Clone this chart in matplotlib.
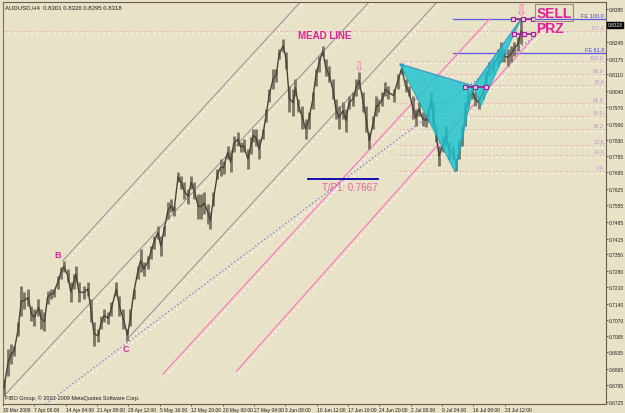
import numpy as np
import matplotlib.pyplot as plt

# ---- data ----
# sampled bars: bar index, high, low
bars = [1, 5, 8, 11, 15, 18, 21, 25, 28, 31, 35, 38, 41, 44, 47, 50, 54, 57, 60, 64,
        67, 70, 72, 75, 80, 84, 87, 90, 94, 97, 100, 104, 107, 112, 115, 119, 123, 126, 129, 133,
        136, 139, 143, 146, 149, 153, 156, 159, 163, 166, 169, 173, 176, 179, 183, 186, 189, 193, 196, 199,
        203, 205, 208, 212, 215, 218, 222, 225, 228, 232, 235, 238, 242, 245, 247, 250, 253, 257, 260, 263,
        267, 270, 273, 277, 280, 283, 287, 289, 292, 296, 299, 302, 306, 309, 312, 316, 319, 322, 326, 329,
        332, 336, 339, 342, 346, 349, 352, 356, 359, 362, 366, 369, 371, 375, 378, 381, 386, 390, 394, 398,
        401, 405, 408, 411, 415, 418, 420, 423, 425, 428, 431, 435, 438, 441, 445, 448, 451, 454, 457, 460,
        464, 467, 470, 474, 477, 480, 484, 489, 492, 495, 499, 502, 505, 509, 512]
highs = [0.6822, 0.6949, 0.6970, 0.6961, 0.7063, 0.7215, 0.7190, 0.7202, 0.7130, 0.7118,
         0.7160, 0.7118, 0.7105, 0.7194, 0.7202, 0.7202, 0.7257, 0.7295, 0.7321, 0.7287,
         0.7232, 0.7266, 0.7299, 0.7232, 0.7215, 0.7232, 0.7160, 0.7063, 0.7033, 0.7088,
         0.7118, 0.7105, 0.7147, 0.7232, 0.7173, 0.7118, 0.7033, 0.7118, 0.7202, 0.7299,
         0.7371, 0.7316, 0.7342, 0.7384, 0.7426, 0.7468, 0.7426, 0.7468, 0.7570, 0.7582,
         0.7553, 0.7696, 0.7680, 0.7654, 0.7625, 0.7680, 0.7654, 0.7604, 0.7604, 0.7612,
         0.7561, 0.7527, 0.7612, 0.7709, 0.7751, 0.7743, 0.7806, 0.7781, 0.7849, 0.7865,
         0.7823, 0.7836, 0.7794, 0.7844, 0.7878, 0.7878, 0.7836, 0.7878, 0.7963, 0.8047,
         0.8132, 0.8132, 0.8216, 0.8258, 0.8203, 0.8060, 0.8047, 0.8089, 0.8005, 0.7975,
         0.7920, 0.7950, 0.8034, 0.8132, 0.8186, 0.8229, 0.8174, 0.8144, 0.8089, 0.8005,
         0.7975, 0.7992, 0.7963, 0.8017, 0.8034, 0.8089, 0.8119, 0.8034, 0.7975, 0.7865,
         0.7933, 0.8017, 0.8005, 0.8034, 0.8077, 0.8060, 0.8047, 0.8110, 0.8157, 0.8089,
         0.8060, 0.8017, 0.7963, 0.7992, 0.7950, 0.7941, 0.7963, 0.8034, 0.7992, 0.7891,
         0.7806, 0.7849, 0.7891, 0.7823, 0.7806, 0.7751, 0.7836, 0.7891, 0.7992, 0.8047,
         0.8060, 0.8034, 0.8017, 0.8060, 0.8119, 0.8161, 0.8174, 0.8216, 0.8246, 0.8216,
         0.8216, 0.8229, 0.8246, 0.8267, 0.8347]
lows = [0.6750, 0.6835, 0.6885, 0.6919, 0.7004, 0.7088, 0.7118, 0.7130, 0.7067, 0.7046,
        0.7088, 0.7033, 0.7025, 0.7139, 0.7160, 0.7168, 0.7202, 0.7244, 0.7274, 0.7232,
        0.7147, 0.7202, 0.7232, 0.7147, 0.7160, 0.7173, 0.7063, 0.6961, 0.6978, 0.7033,
        0.7063, 0.7054, 0.7088, 0.7173, 0.7088, 0.7033, 0.6983, 0.7046, 0.7160, 0.7244,
        0.7274, 0.7257, 0.7287, 0.7329, 0.7371, 0.7413, 0.7342, 0.7426, 0.7498, 0.7527,
        0.7511, 0.7654, 0.7625, 0.7582, 0.7561, 0.7625, 0.7582, 0.7498, 0.7498, 0.7519,
        0.7477, 0.7456, 0.7553, 0.7667, 0.7680, 0.7688, 0.7751, 0.7696, 0.7781, 0.7806,
        0.7781, 0.7781, 0.7709, 0.7772, 0.7823, 0.7806, 0.7751, 0.7836, 0.7908, 0.7992,
        0.8047, 0.8077, 0.8174, 0.8203, 0.8132, 0.7950, 0.7933, 0.8017, 0.7950, 0.7878,
        0.7836, 0.7878, 0.7963, 0.8060, 0.8119, 0.8186, 0.8102, 0.8077, 0.8005, 0.7920,
        0.7878, 0.7920, 0.7865, 0.7963, 0.7975, 0.8017, 0.8047, 0.7950, 0.7865, 0.7794,
        0.7878, 0.7933, 0.7950, 0.7975, 0.8017, 0.8005, 0.7992, 0.8047, 0.8110, 0.8034,
        0.8017, 0.7920, 0.7891, 0.7933, 0.7891, 0.7887, 0.7908, 0.7963, 0.7891, 0.7823,
        0.7722, 0.7781, 0.7806, 0.7751, 0.7751, 0.7701, 0.7751, 0.7806, 0.7891, 0.7975,
        0.8005, 0.7975, 0.7963, 0.8005, 0.8047, 0.8102, 0.8110, 0.8144, 0.8161, 0.8161,
        0.8144, 0.8161, 0.8186, 0.8208, 0.8237]

x_ticks = [0, 31, 62, 93, 124, 155, 186, 217, 248, 279, 310, 341, 372, 403, 434, 465, 496]
x_labels = ["30 Mar 2009", "7 Apr 00:00", "14 Apr 04:00", "21 Apr 08:00", "28 Apr 12:00",
            "5 May 16:00", "12 May 20:00", "20 May 00:00", "27 May 04:00", "3 Jun 08:00",
            "10 Jun 12:00", "17 Jun 16:00", "24 Jun 20:00", "2 Jul 00:00", "9 Jul 04:00",
            "16 Jul 08:00", "23 Jul 12:00"]
y_ticks = [0.8385, 0.8245, 0.8175, 0.8110, 0.8040, 0.7970, 0.7900, 0.7830, 0.7765, 0.7695,
           0.7625, 0.7555, 0.7485, 0.7415, 0.7350, 0.7280, 0.7210, 0.7140, 0.7070, 0.7005,
           0.6935, 0.6865, 0.6795, 0.6725]
last_price = 0.8318

# trendline anchors (bar, price)
channel_lines = [((59, 0.7321), (320, 0.8536)),
                 ((0, 0.6746), (380, 0.8498)),
                 ((122, 0.6987), (450, 0.8512))]
pink_lines = [((158, 0.6843), (481, 0.8343)),
              ((231, 0.6856), (538, 0.8330))]
blue_line = ((42, 0.6716), (526, 0.8271))

# butterfly X, A, B, C, D
pattern_bars = [392, 447, 465, 472, 512]
pattern_prices = [0.8153, 0.7696, 0.8060, 0.7975, 0.8343]

# fibo retracement 0 -> 100
fib_low, fib_high = 0.7700, 0.8165
fib_levels = [0.0, 14.6, 23.6, 38.2, 50.0, 61.8, 78.6, 88.6, 100.0, 127.2]
fe_names = ["FE 100.0", "FE 61.8"]
fe_prices = [0.8343, 0.8199]

# PRZ marker levels (start bar, end bar, price)
prz_marks = [(504, 524, 0.8343), (505, 524, 0.8279), (457, 477, 0.8056)]
tp_price = 0.7667

# ---- drawing ----
bg = '#E8E2C6'
pink = '#FF78C4'
mag = '#E0209A'
font = 'Liberation Sans'

fig = plt.figure(figsize=(6.25, 4.14), dpi=100, facecolor=bg)
ax = fig.add_axes([3/625, 9/414, 603/625, 402/414], facecolor=bg)
ax.set_xlim(0, 596)
ax.set_ylim(0.67165, 0.84145)

# white dotted "shadow" lines helper
def seg(p0, p1, color, ls='-', lw=0.8, shadow=True, z=2):
    ax.plot([p0[0], p1[0]], [p0[1], p1[1]], color=color, ls=ls, lw=lw, zorder=z)
    if shadow:
        ax.plot([p0[0] + 2, p1[0] + 2], [p0[1] - 0.0012, p1[1] - 0.0012],
                color='white', ls=(0, (1, 3)), lw=1.0, zorder=z - 0.1)

# fibo lines
for lv in fib_levels:
    price = fib_low + (fib_high - fib_low) * lv / 100
    start = 0 if lv == 127.2 else 388
    ax.plot([start, 596], [price, price], color='#E9A2BC', ls=(0, (1, 2)), lw=0.8, zorder=1)
    ax.plot([start, 596], [price - 0.0009, price - 0.0009], color='white', ls=(0, (1, 3)), lw=1.0, zorder=1)
    ax.text(594, price + 0.0003, f"{lv:.1f}", color='#B49BD6', fontsize=4.0,
            ha='right', va='bottom', family=font, zorder=3)

for name, price in zip(fe_names, fe_prices):
    ax.plot([445, 596], [price, price], color='#5A5AE6', lw=0.9, zorder=2)
    ax.text(594, price + 0.0003, name, color='#4848E0', fontsize=4.0,
            ha='right', va='bottom', family=font, zorder=3)

for p0, p1 in channel_lines:
    seg(p0, p1, '#9A8A90', lw=0.7)
for p0, p1 in pink_lines:
    seg(p0, p1, pink, lw=0.9)
seg(blue_line[0], blue_line[1], '#6F6FEA', ls=(0, (1, 2)), lw=0.9)

# candles
mids = (np.array(highs) + np.array(lows)) / 2
ax.vlines(bars, lows, highs, color='#7D7565', lw=2.0, zorder=4)
ax.plot(bars, mids, color='#4A4438', lw=1.0, zorder=5)

# butterfly triangles
tri1 = [(pattern_bars[i], pattern_prices[i]) for i in (0, 1, 2)]
tri2 = [(pattern_bars[i], pattern_prices[i]) for i in (2, 3, 4)]
for tri in (tri1, tri2):
    ax.add_patch(plt.Polygon(tri, closed=True, facecolor='#1CC4D2', edgecolor='#14A8B8',
                             alpha=0.82, lw=0.8, zorder=6))
ax.plot([pattern_bars[0], pattern_bars[2], pattern_bars[4]],
        [pattern_prices[0], pattern_prices[2], pattern_prices[4]],
        color='#6F6FEA', ls=(0, (1, 2)), lw=0.8, zorder=7)

for b0, b1, price in prz_marks:
    ax.plot([b0, (b0 + b1) / 2, b1], [price] * 3, color='#A0209A', lw=1.2, marker='s',
            ms=3, mfc='#E8C8E0', mec='#A0209A', mew=0.8, zorder=8)

# take profit
ax.plot([301, 371], [tp_price, tp_price], color='#0000B0', lw=1.3, zorder=8)
ax.text(315, tp_price - 0.0036, "T/P1: 0.7667", color='#F060A8', fontsize=7,
        family=font, ha='left', va='center', zorder=9)

# labels
ax.text(318, 0.8275, "MEAD LINE", color=mag, fontsize=7, fontweight='bold',
        family=font, ha='center', va='center', zorder=9)
ax.text(54, 0.7346, "B", color=mag, fontsize=6.5, fontweight='bold',
        family=font, ha='center', va='center', zorder=9)
ax.text(121, 0.6949, "C", color=mag, fontsize=6.5, fontweight='bold',
        family=font, ha='center', va='center', zorder=9)
ax.text(527, 0.8370, "SELL", color=mag, fontsize=10, fontweight='bold', family=font,
        ha='left', va='center', zorder=9,
        bbox=dict(boxstyle='square,pad=0.1', fc='none', ec='#A88878', lw=0.8))
ax.text(527, 0.8303, "PRZ", color=mag, fontsize=10, fontweight='bold', family=font,
        ha='left', va='center', zorder=9)
ax.text(352, 0.8140, "\u21e9", color='#F07AB0', fontsize=9, ha='center', va='center',
        family='DejaVu Sans', zorder=9)
ax.text(512, 0.8383, "\u21e9", color='#F07AB0', fontsize=11, ha='center', va='center',
        family='DejaVu Sans', zorder=9)

ax.text(2, 0.8395, "AUDUSD,H4  0.8301 0.8326 0.8295 0.8318", fontsize=4.3, color='#202020',
        family=font, ha='left', va='center', zorder=9)
ax.text(2, 0.6747, "FIBO Group, \u00a9 2001-2009 MetaQuotes Software Corp.", fontsize=4.0,
        color='#202020', family=font, ha='left', va='center', zorder=9)

# axes
ax.yaxis.tick_right()
ax.set_yticks(y_ticks)
ax.set_yticklabels([f"{v:.4f}" for v in y_ticks], fontsize=3.5, family=font, color='#202020')
ax.set_xticks(x_ticks)
ax.set_xticklabels(x_labels, fontsize=3.5, family=font, color='#202020', ha='left')
ax.tick_params(axis='both', length=1.5, width=0.6, color='#505050', pad=0.5)
ax.text(1.003, last_price, f"{last_price:.4f}", transform=ax.get_yaxis_transform(),
        fontsize=3.5, family=font, color='white', ha='left', va='center', zorder=10,
        bbox=dict(boxstyle='square,pad=0.12', fc='black', ec='black'))
for s in ax.spines.values():
    s.set_color('#6B5D50')
    s.set_linewidth(0.8)
    s.set_linestyle((0, (2, 1)))
ax.spines['left'].set_linestyle('-')
ax.spines['left'].set_color('#8A6A58')

fig.savefig('out.png', dpi=100, facecolor=bg)
